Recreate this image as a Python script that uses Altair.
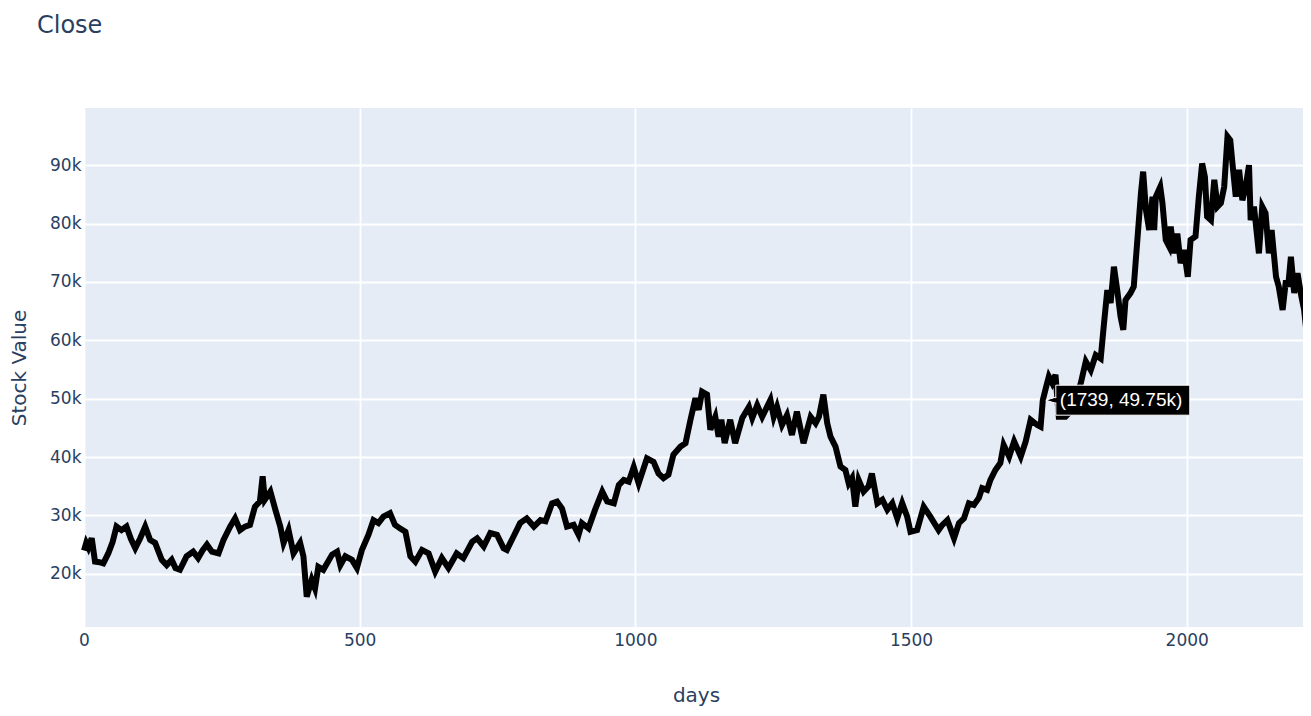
import altair as alt
import pandas as pd

# ---- data (day index, closing value) ----
days = [0, 4, 8, 14, 20, 28, 35, 44, 52, 59, 68, 77, 85, 93, 102, 111, 120, 129, 141, 150,
        159, 166, 174, 186, 198, 207, 215, 223, 232, 244, 253, 265, 274, 283, 292, 301, 310, 319, 324, 328,
        338, 347, 356, 362, 371, 380, 392, 398, 404, 413, 419, 425, 434, 442, 450, 459, 465, 474, 486, 495,
        504, 516, 525, 534, 543, 555, 564, 573, 583, 592, 601, 613, 625, 637, 649, 661, 676, 688, 704, 713,
        725, 737, 749, 761, 767, 779, 791, 803, 816, 828, 837, 849, 858, 867, 876, 888, 897, 903, 915, 927,
        940, 949, 961, 970, 979, 988, 997, 1006, 1021, 1033, 1042, 1051, 1060, 1069, 1082, 1091, 1100, 1109, 1115, 1121,
        1130, 1136, 1145, 1151, 1156, 1162, 1172, 1181, 1194, 1206, 1212, 1221, 1230, 1245, 1251, 1257, 1266, 1275, 1284, 1293,
        1305, 1318, 1327, 1333, 1341, 1348, 1354, 1363, 1372, 1381, 1387, 1393, 1399, 1405, 1414, 1423, 1429, 1439, 1448, 1457,
        1466, 1475, 1484, 1493, 1499, 1511, 1523, 1535, 1550, 1556, 1566, 1578, 1587, 1596, 1605, 1614, 1623, 1629, 1638, 1644,
        1653, 1662, 1668, 1678, 1687, 1699, 1708, 1717, 1729, 1735, 1739, 1745, 1750, 1756, 1762, 1768, 1780, 1792, 1808, 1817,
        1826, 1835, 1844, 1850, 1856, 1862, 1868, 1874, 1880, 1885, 1889, 1898, 1904, 1910, 1917, 1921, 1926, 1932, 1938, 1941,
        1944, 1952, 1956, 1962, 1968, 1971, 1977, 1983, 1989, 1995, 2002, 2007, 2016, 2022, 2028, 2033, 2037, 2044, 2050, 2056,
        2062, 2068, 2074, 2079, 2083, 2089, 2095, 2101, 2107, 2113, 2116, 2122, 2131, 2137, 2143, 2149, 2154, 2162, 2167, 2174,
        2180, 2184, 2189, 2195, 2201, 2208, 2213, 2220]

close = [24000, 25300, 24500, 26100, 22100, 22000, 21800, 23500, 25500, 28100, 27500, 28100, 26000, 24400, 26100, 28100, 25800, 25300, 22400, 21500,
         22400, 21000, 20700, 23000, 23800, 22700, 24000, 25000, 23800, 23500, 25800, 28100, 29500, 27500, 28100, 28400, 31500, 32400, 36700, 32700,
         34100, 31000, 28100, 25300, 27500, 23500, 25300, 23000, 16100, 19000, 17500, 21200, 20700, 22000, 23300, 23800, 21500, 23000, 22400, 21000,
         24100, 26700, 29200, 28700, 29800, 30400, 28400, 27800, 27200, 23000, 22100, 24100, 23500, 20400, 22700, 21000, 23500, 22700, 25500, 26100,
         24700, 27000, 26700, 24400, 24100, 26400, 28700, 29500, 28100, 29200, 29000, 32100, 32400, 31200, 28100, 28400, 26700, 28700, 27800, 31000,
         34100, 32400, 32100, 35200, 36100, 35800, 38300, 35500, 39800, 39200, 37200, 36400, 37000, 40400, 41800, 42400, 46400, 50100, 48100, 51200,
         50700, 44700, 46900, 43500, 46400, 42400, 46400, 42400, 46700, 48600, 46700, 48900, 46900, 49800, 46900, 48600, 45500, 47200, 43800, 47800,
         42400, 46900, 45800, 46900, 50700, 45800, 43500, 41800, 38400, 37800, 35500, 36400, 31500, 36100, 34100, 35000, 37200, 32100, 32700, 31000,
         32100, 29500, 32100, 29800, 27200, 27500, 31500, 29800, 27500, 28300, 29200, 26100, 28700, 29500, 32100, 31800, 33000, 34700, 34400, 36100,
         37800, 39000, 42100, 40100, 42700, 40100, 42700, 46400, 45500, 45200, 49750, 52000, 53800, 52700, 54100, 46900, 46900, 48100, 52700, 56400,
         54900, 57500, 56900, 62900, 68600, 66400, 72600, 68600, 64100, 61800, 66900, 68100, 69200, 76600, 85200, 88900, 82400, 78900, 84600, 78900,
         84600, 86300, 83500, 77200, 76100, 79500, 74900, 78300, 73200, 75500, 70900, 77200, 77800, 84600, 90300, 88000, 81200, 80600, 87500, 82900,
         83500, 86300, 94900, 94300, 90300, 84600, 89200, 84000, 86300, 90000, 80600, 82900, 74900, 82900, 81800, 74900, 78900, 70900, 69200, 65200,
         70300, 69200, 74300, 68100, 71500, 67500, 65200, 58900]

x_ticks = [0, 500, 1000, 1500, 2000]
y_ticks = [20000, 30000, 40000, 50000, 60000, 70000, 80000, 90000]

hover_day = [1739]
hover_value = [49750]
hover_label = ["(1739, 49.75k)"]

chart_title = ["Close"]

TXT = "#2a3f5f"
FONT = "DejaVu Sans"

df = pd.DataFrame({"days": days, "close": close})
hover_df = pd.DataFrame({"days": hover_day, "close": hover_value, "label": hover_label})
title_df = pd.DataFrame({"t": chart_title})

x_scale = alt.Scale(domain=[0, 2220], nice=False, zero=False)
y_scale = alt.Scale(domain=[10900, 99800], nice=False, zero=False)

x_enc = alt.X("days:Q", scale=x_scale,
              axis=alt.Axis(title="days", values=x_ticks, format="d", grid=True,
                            gridColor="white", gridWidth=1.8, domain=False, ticks=False, tickSize=0,
                            labelFlush=False, labelOverlap=False,
                            labelPadding=5, labelFontSize=17, labelColor=TXT, labelFont=FONT,
                            titleFont=FONT, titleFontSize=20, titleColor=TXT, titleFontWeight="normal",
                            titleX=612, titleY=74, titleBaseline="alphabetic", titleAlign="center"))
y_enc = alt.Y("close:Q", scale=y_scale,
              axis=alt.Axis(title="Stock Value", values=y_ticks, format="~s", grid=True,
                            gridColor="white", gridWidth=1.8, domain=False, ticks=False, tickSize=0,
                            labelFlush=False, labelOverlap=False,
                            labelPadding=3, labelFontSize=17, labelColor=TXT, labelFont=FONT,
                            titleFont=FONT, titleFontSize=20, titleColor=TXT, titleFontWeight="normal",
                            titleAngle=270, titleX=-65, titleY=259.5, titleBaseline="middle", titleAlign="center"))

line = alt.Chart(df).mark_line(color="black", strokeWidth=6).encode(x=x_enc, y=y_enc)

box = alt.Chart(hover_df).mark_rect(fill="black", stroke="white", strokeWidth=1,
                                    xOffset=13, x2Offset=147, yOffset=-15, y2Offset=15).encode(
    x=alt.X("days:Q", scale=x_scale), x2="days:Q",
    y=alt.Y("close:Q", scale=y_scale), y2="close:Q")

arrow = alt.Chart(hover_df).mark_point(shape="M-1,0L1,-0.6L1,0.6Z", size=100, filled=True,
                                       fill="black", stroke="white", strokeWidth=1, opacity=1,
                                       xOffset=8).encode(
    x=alt.X("days:Q", scale=x_scale), y=alt.Y("close:Q", scale=y_scale))

seam = alt.Chart(hover_df).mark_point(shape="M-1,0L1,-0.6L1,0.6Z", size=70, filled=True,
                                      fill="black", strokeWidth=0, opacity=1,
                                      xOffset=10).encode(
    x=alt.X("days:Q", scale=x_scale), y=alt.Y("close:Q", scale=y_scale))

hover_text = alt.Chart(hover_df).mark_text(color="white", font="Liberation Sans", fontSize=19,
                                           align="left", baseline="middle", dx=17).encode(
    x=alt.X("days:Q", scale=x_scale), y=alt.Y("close:Q", scale=y_scale), text="label:N")

title_mark = alt.Chart(title_df).mark_text(font=FONT, fontSize=24, color=TXT,
                                           align="left", baseline="alphabetic").encode(
    x=alt.value(-47), y=alt.value(-75), text="t:N")

chart = alt.layer(line, box, arrow, seam, hover_text, title_mark).properties(
    width=1224, height=519,
    autosize=alt.AutoSizeParams(type="none"),
    padding={"left": 76, "top": 100, "right": -5, "bottom": 80},
    background="white",
).configure_view(fill="#E5ECF6", stroke=None)

chart.save("out.html", embed_options={"renderer": "svg", "actions": False})
